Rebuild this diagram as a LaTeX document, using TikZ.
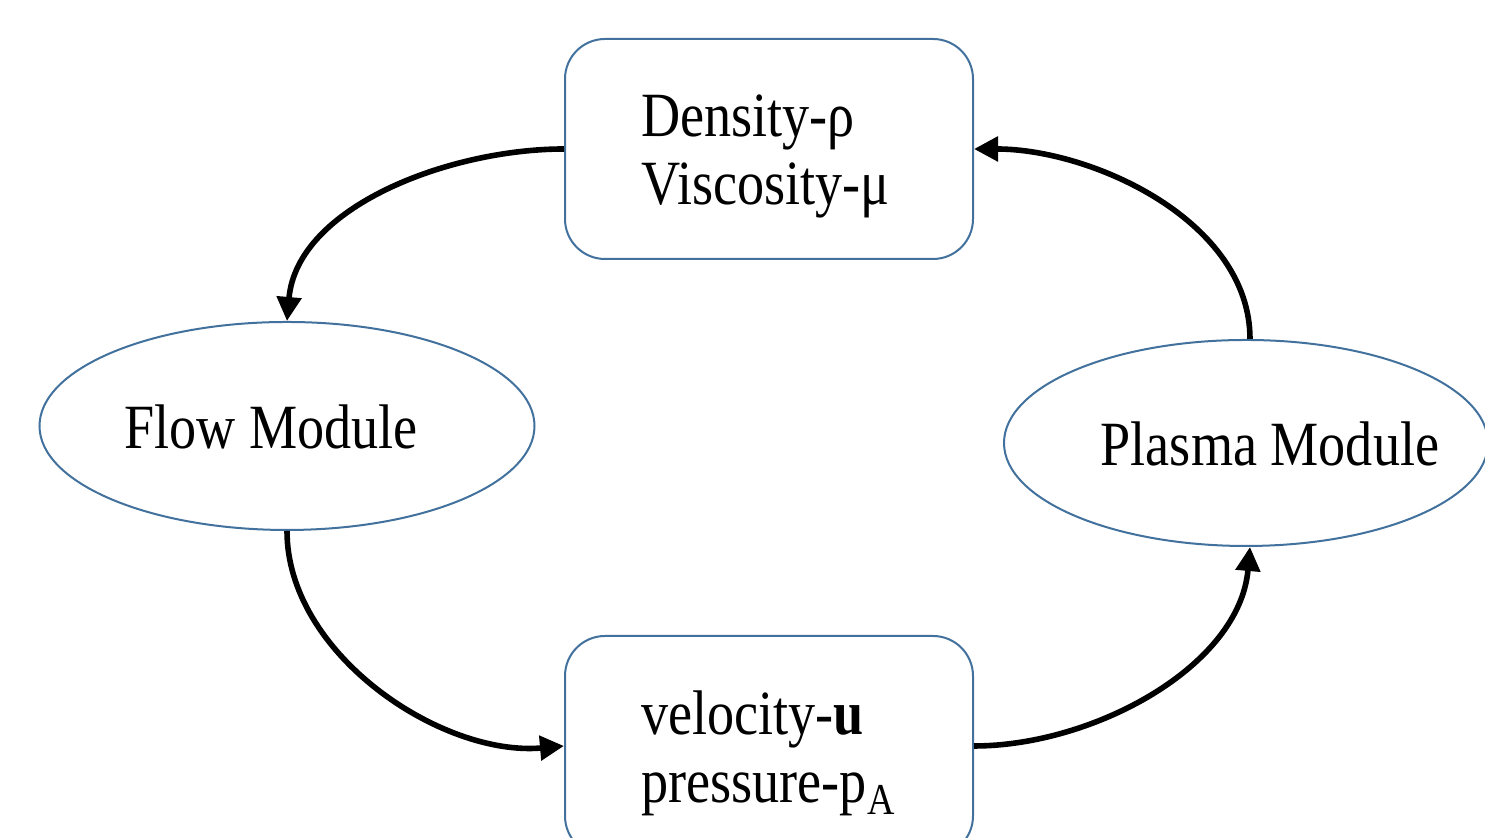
\documentclass[tikz,border=0pt]{standalone}
\usepackage{fontspec}
\setmainfont[FakeStretch=0.86]{Liberation Serif}
\usetikzlibrary{shapes.geometric,arrows.meta}
\definecolor{boxline}{RGB}{65,113,156}
\tikzset{
  databox/.style={draw=boxline,line width=1pt,rounded corners=20pt,minimum width=204pt,minimum height=110pt,fill=white},
  modell/.style={draw=boxline,line width=1pt,ellipse,fill=white},
  txt/.style={font=\fontsize{31.5}{34}\selectfont,align=left,inner sep=0pt},
  flowarr/.style={line width=2.8pt,-{Triangle[length=12pt,width=12pt]}}
}
\begin{document}
\begin{tikzpicture}[x=0.5pt,y=0.5pt]
\useasboundingbox (0,0) rectangle (1485,838);
\begin{scope}
\clip (0,0) rectangle (1485,838);
\node[databox] (top) at (769,689) {};
\node[databox] (bot) at (769,92) {};
\node[modell,minimum width=247.5pt,minimum height=104pt] (flow) at (287,412) {};
\node[modell,minimum width=242pt,minimum height=103pt] (plasma) at (1246,395) {};
\end{scope}
\node[txt,anchor=north west] (toptxt) at (641,744) {Density-ρ\\Viscosity-μ};
\node[txt,anchor=north west] (bottxt) at (641,148) {velocity-\textbf{u}\\pressure-p\textsubscript{A}};
\node[txt] (flowtxt) at (271,411) {Flow Module};
\node[txt] (plasmatxt) at (1270,394) {Plasma Module};
\draw[flowarr] (top.west) to[out=180,in=85,looseness=0.9] (flow.north);
\draw[flowarr] (flow.south) to[out=-90,in=185,looseness=0.9] (bot.west);
\draw[flowarr] (bot.east) to[out=0,in=-95,looseness=0.9] ([xshift=2pt]plasma.south);
\draw[flowarr] ([xshift=2pt]plasma.north) to[out=90,in=0,looseness=0.9] (top.east);
\end{tikzpicture}
\end{document}
